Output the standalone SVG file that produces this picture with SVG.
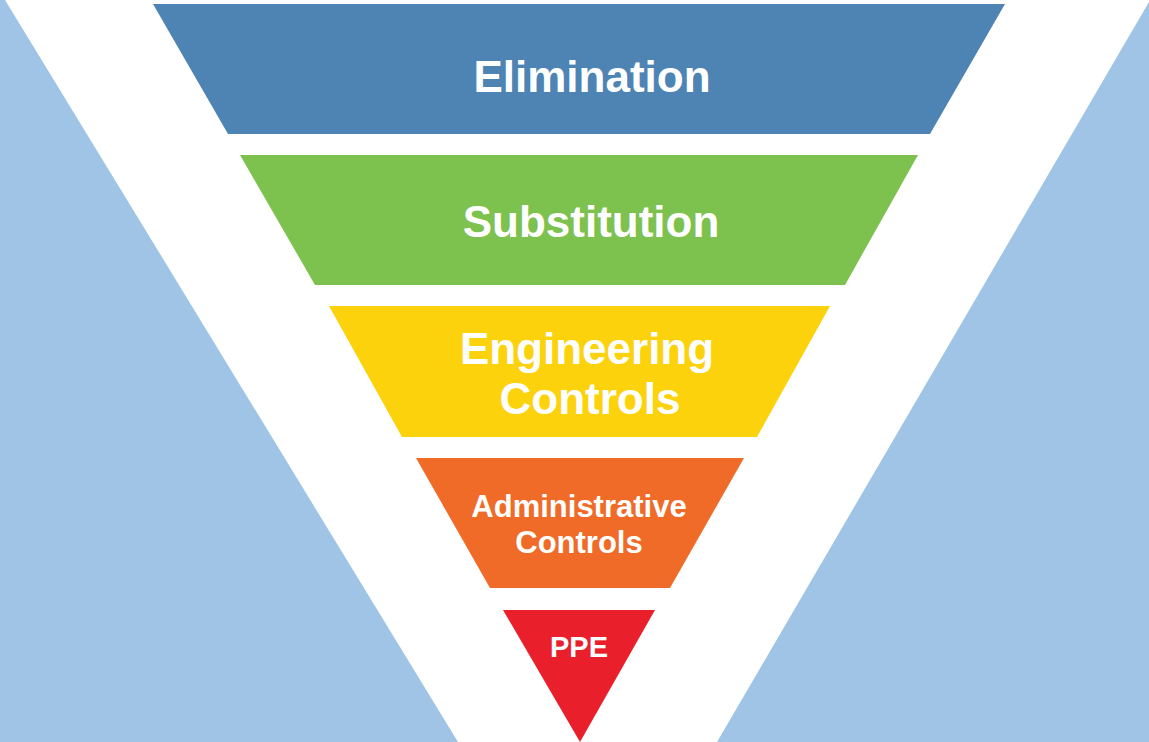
<svg xmlns="http://www.w3.org/2000/svg" width="1149" height="742" viewBox="0 0 1149 742">
<style>
.t{font-family:"Liberation Sans",Arial,sans-serif;font-weight:bold;fill:#fff;text-anchor:middle}
.bg{fill:#9fc4e5}
</style>
<rect width="1149" height="742" fill="#fff"/>
<polygon class="bg" points="0,0 5,0 458,742 0,742"/>
<polygon class="bg" points="1149,0 1149,742 717,742 1149,2"/>
<g id="elimination"><polygon points="153,4 1005,4 930,134 228,134" fill="#4e84b4"/><text class="t" x="592" y="92" font-size="44">Elimination</text></g>
<g id="substitution"><polygon points="240,155 918,155 845,285 315,285" fill="#7dc14f"/><text class="t" x="591" y="237" font-size="44">Substitution</text></g>
<g id="engineering"><polygon points="329,306 830,306 757,437 402,437" fill="#fcd20c"/><text class="t" x="587" y="364" font-size="44">Engineering</text><text class="t" x="590" y="414" font-size="44">Controls</text></g>
<g id="administrative"><polygon points="416,458 744,458 670,588 490,588" fill="#ef6b27"/><text class="t" x="579" y="517" font-size="31">Administrative</text><text class="t" x="579" y="553" font-size="31">Controls</text></g>
<g id="ppe"><polygon points="503,610 655,610 580,742" fill="#e91f2b"/><text class="t" x="579" y="657" font-size="29">PPE</text></g>
<g id="connectors"/>
</svg>
